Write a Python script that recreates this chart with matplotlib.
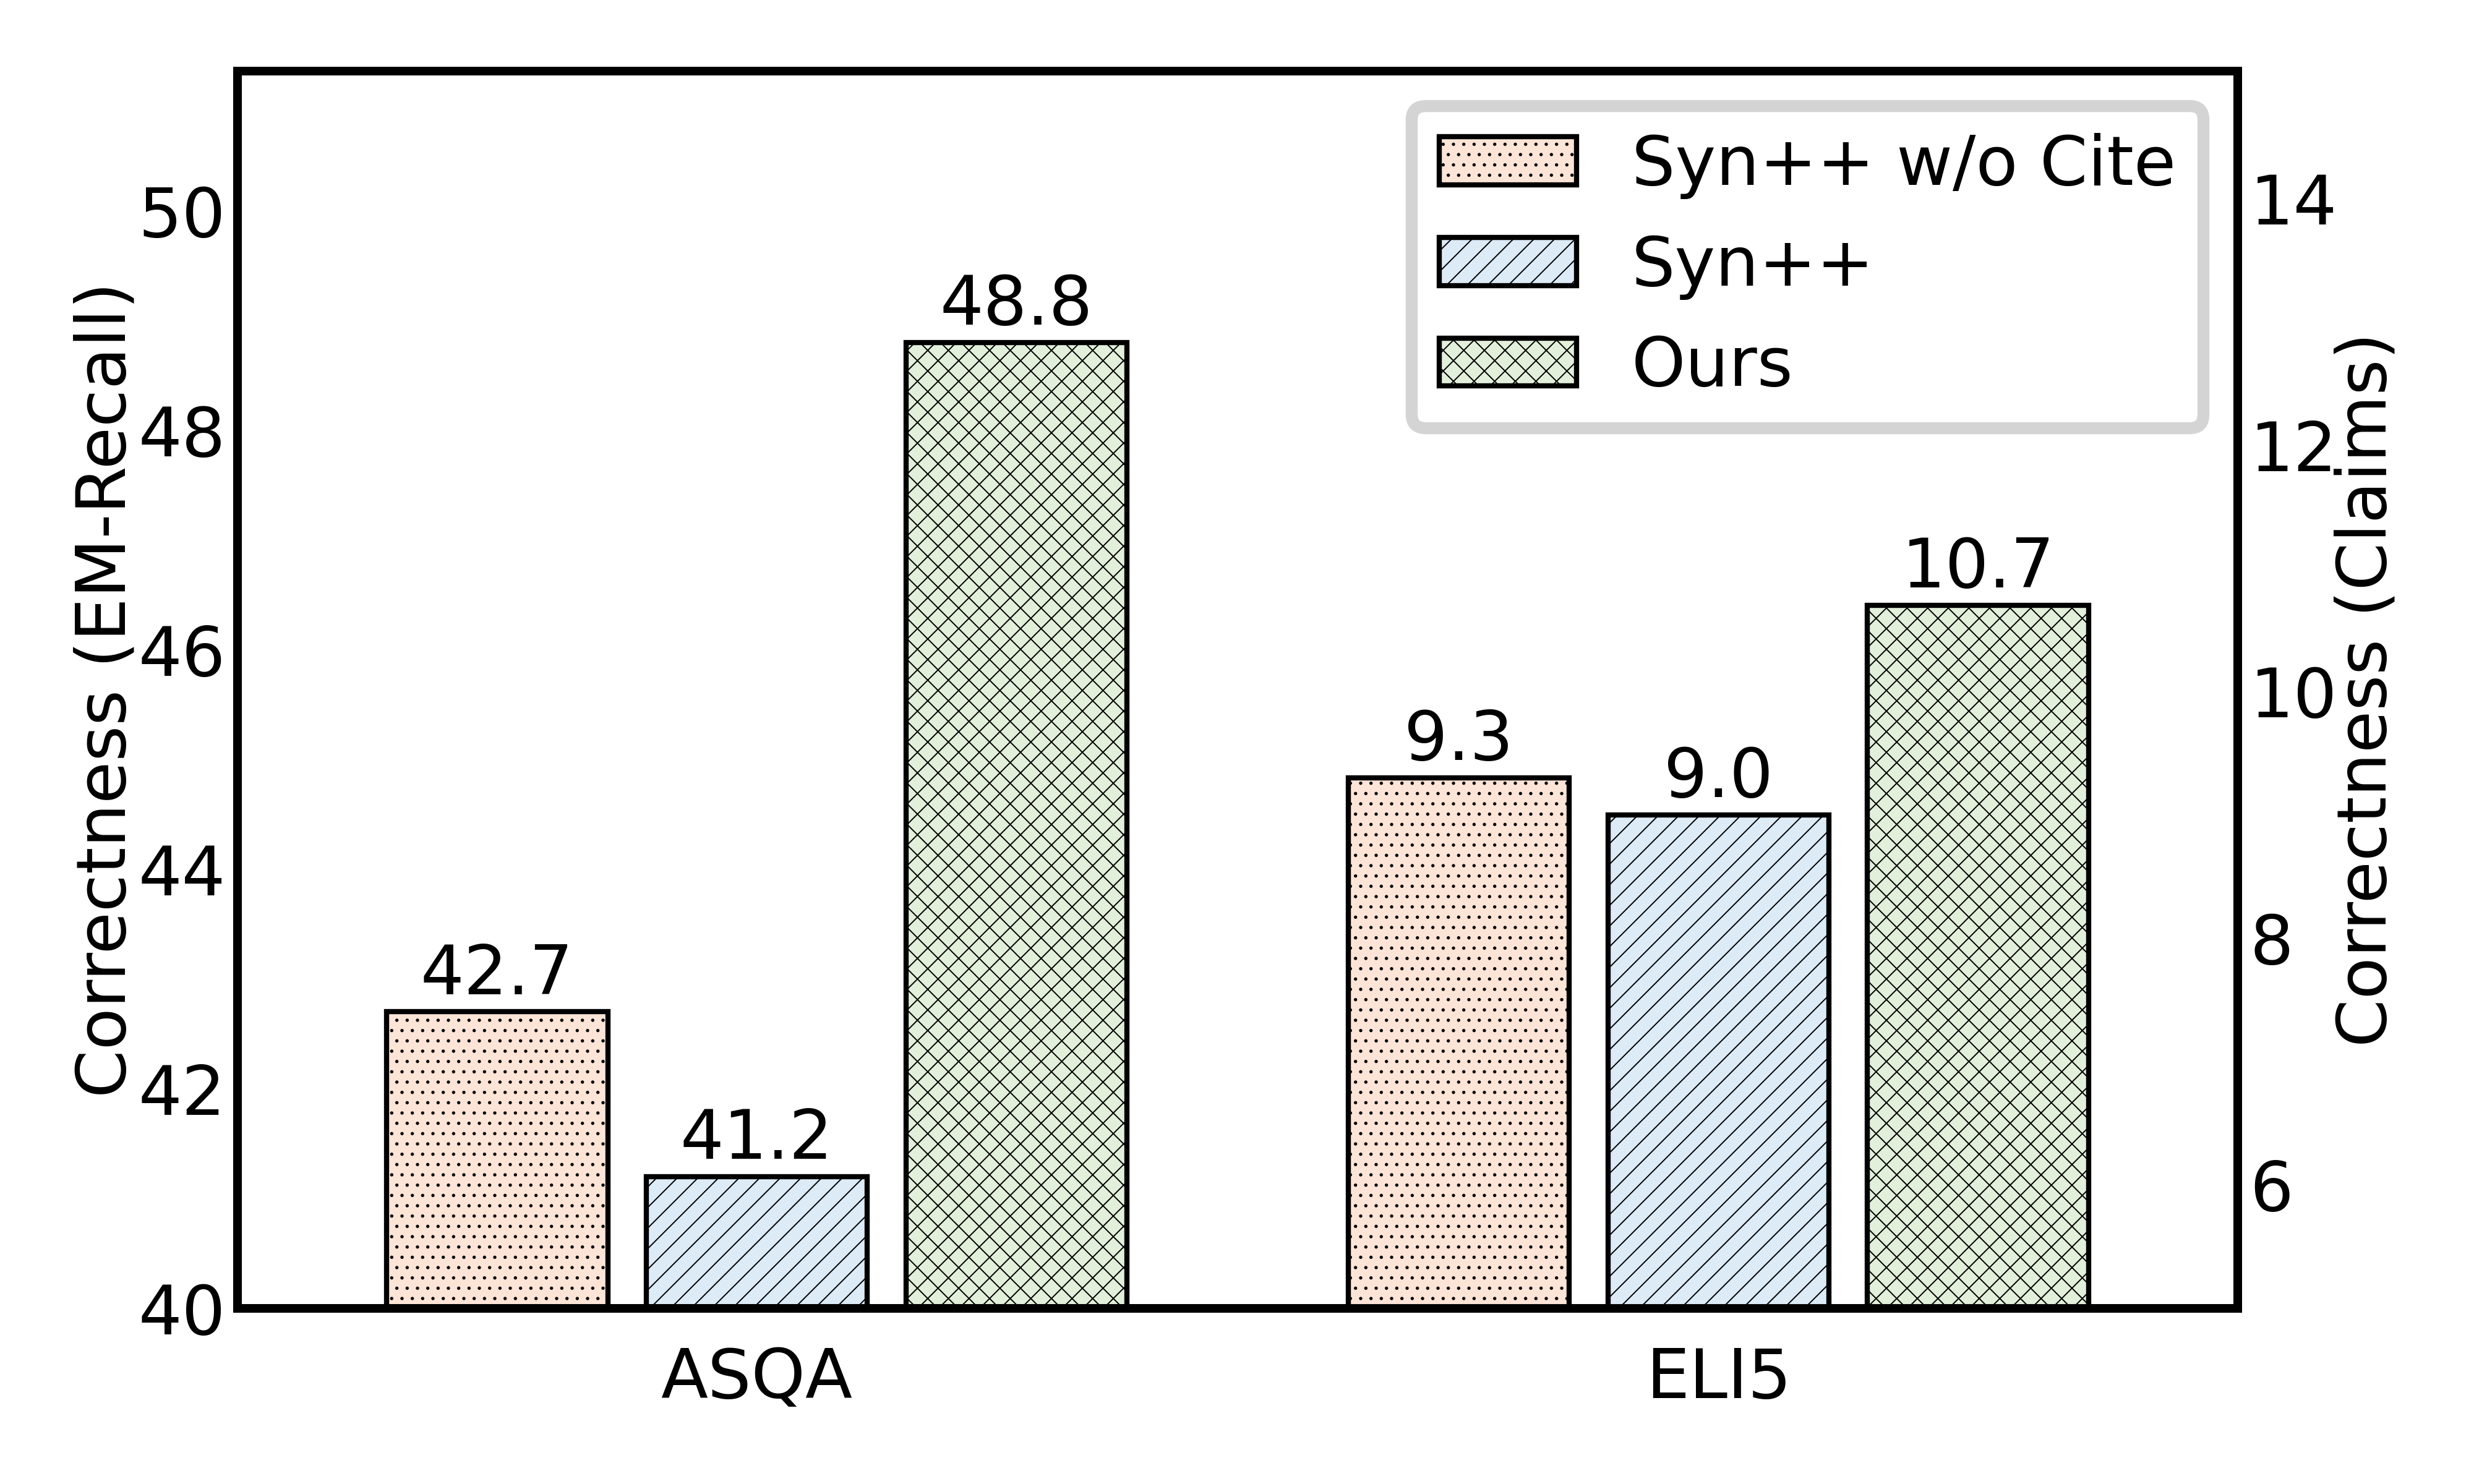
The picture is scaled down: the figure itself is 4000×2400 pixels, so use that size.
#!/usr/bin/env python3

import matplotlib
matplotlib.use("Agg")
import matplotlib.pyplot as plt

datasets = ["ASQA", "ELI5"]
methods = ["Syn++ w/o Cite", "Syn++", "Ours"]
asqa_values = [42.7, 41.2, 48.8]
eli5_values = [9.3, 9.0, 10.7]

left_ticks = [40, 42, 44, 46, 48, 50]
right_ticks = [6, 8, 10, 12, 14]

method_colors = ['#FCE4D6', '#DDEBF7', '#E2EFDA']
method_hatches = ['....', '////', 'xxxx']


def build_graph(output_file: str):
    print("build_graph: start")

    fontsize = 20
    matplotlib.rc('font', size=fontsize)
    plt.rcParams['hatch.linewidth'] = 0.35

    fig, ax1 = plt.subplots(figsize=(10, 6))
    fig.subplots_adjust(left=0.096, right=0.9045, top=0.952, bottom=0.1185)
    ax2 = ax1.twinx()

    width = 0.23
    step = 0.27
    handles = []
    for i, method in enumerate(methods):
        off = (i - 1) * step
        b1 = ax1.bar(0 + off, asqa_values[i], width, color=method_colors[i],
                     hatch=method_hatches[i], edgecolor='black',
                     linewidth=1.5, label=method)
        b2 = ax2.bar(1 + off, eli5_values[i], width, color=method_colors[i],
                     hatch=method_hatches[i], edgecolor='black',
                     linewidth=1.5, label=method)
        ax1.bar_label(b1, fmt='%.1f', padding=1)
        ax2.bar_label(b2, fmt='%.1f', padding=1)
        handles.append(b1)

    ax1.set_xlim(-0.54, 1.54)
    ax1.set_ylim(40, 51.27)
    ax2.set_ylim(5, 15.03)

    ax1.set_xticks([0, 1])
    ax1.set_xticklabels(datasets)
    ax1.set_yticks(left_ticks)
    ax2.set_yticks(right_ticks)

    ax1.tick_params(axis='both', length=0)
    ax1.tick_params(axis='x', pad=11)
    ax2.tick_params(axis='y', length=0)

    ax1.set_ylabel("Correctness (EM-Recall)", labelpad=-0.5)
    ax2.set_ylabel("Correctness (Claims)", labelpad=-1)

    for ax in (ax1, ax2):
        for sp in ax.spines.values():
            sp.set_linewidth(2.5)

    leg = ax2.legend(handles, methods, loc='upper right', fancybox=True,
                     framealpha=1, edgecolor='#D4D4D4')
    leg.get_frame().set_linewidth(3.5)

    plt.savefig(output_file, dpi=400)
    print("build_graph: end")


def main():
    build_graph("out.png")


if __name__ == "__main__":
    main()
